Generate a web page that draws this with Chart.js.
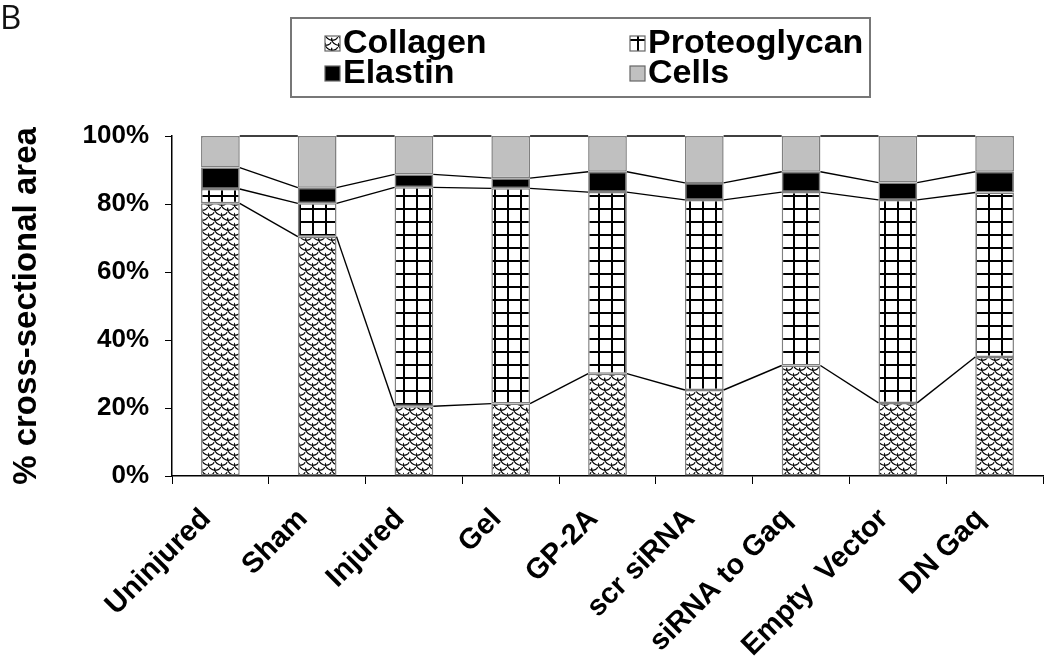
<!DOCTYPE html>
<html>
<head>
<meta charset="utf-8">
<script src="https://cdn.jsdelivr.net/npm/chart.js@4/dist/chart.umd.min.js"></script>
<style>
  html, body { margin: 0; padding: 0; background: #fff; }
  #wrap { position: relative; width: 1050px; height: 664px; }
  #panel { position: absolute; left: 0px; top: -6px; font: 33px "Open Sans", sans-serif; color: #111; }
</style>
</head>
<body>
<div id="wrap">
  <canvas id="stackChart" width="1050" height="664"></canvas>
  <div id="panel">B</div>
</div>
<script>
// data (% of cross-sectional area)
const groups = ['Uninjured', 'Sham', 'Injured', 'Gel', 'GP-2A', 'scr siRNA', 'siRNA to Gaq', 'Empty  Vector', 'DN Gaq'];
const collagen     = [80.2, 70.4, 20.5, 21.3, 30.1, 25.3, 32.5, 21.5, 35.0];
const proteoglycan = [4.2, 9.8, 64.4, 63.3, 53.4, 55.9, 51.0, 59.7, 48.4];
const elastin      = [6.3, 4.6, 3.8, 3.0, 6.0, 5.0, 6.0, 5.1, 6.1];
const cells        = [9.3, 15.2, 11.3, 12.4, 10.5, 13.8, 10.5, 13.7, 10.5];
const yTicks = [0, 20, 40, 60, 80, 100];

const FONT = '"Liberation Sans", Arial, sans-serif';

// fill patterns
function scalePattern() {
  const c = document.createElement('canvas');
  c.width = 13; c.height = 10;
  const g = c.getContext('2d');
  g.fillStyle = '#fff';
  g.fillRect(0, 0, 13, 10);
  g.strokeStyle = '#000';
  g.lineWidth = 1.2;
  // fish scale rows, every other row shifted half a tile
  [[0, 0], [13, 0], [6.5, 5], [0, 10], [13, 10], [6.5, -5]].forEach(p => {
    g.beginPath();
    g.ellipse(p[0], p[1], 6.5, 5, 0.35, 0, Math.PI);
    g.stroke();
  });
  return g.createPattern(c, 'repeat');
}

function gridPattern() {
  const c = document.createElement('canvas');
  c.width = 13; c.height = 13;
  const g = c.getContext('2d');
  g.fillStyle = '#fff';
  g.fillRect(0, 0, 13, 13);
  g.fillStyle = '#000';
  g.fillRect(0, 0, 13, 2);
  g.fillRect(0, 0, 2, 13);
  return g.createPattern(c, 'repeat');
}

const ctx = document.getElementById('stackChart').getContext('2d');

// Excel style series lines between neighbouring bars
const seriesLines = {
  id: 'seriesLines',
  afterDatasetsDraw(chart) {
    const c = chart.ctx;
    c.save();
    c.strokeStyle = '#000';
    c.lineWidth = 1.4;
    chart.data.datasets.forEach((ds, d) => {
      const bars = chart.getDatasetMeta(d).data;
      for (let i = 0; i < bars.length - 1; i++) {
        const a = bars[i], b = bars[i + 1];
        c.beginPath();
        c.moveTo(a.x + a.width / 2, a.y);
        c.lineTo(b.x - b.width / 2, b.y);
        c.stroke();
      }
    });
    c.restore();
  }
};

// boxed two-column legend
const boxLegend = {
  id: 'boxLegend',
  afterDraw(chart) {
    const c = chart.ctx;
    const left = 291, top = 18, right = 870, bottom = 97;
    c.save();
    c.strokeStyle = '#777';
    c.lineWidth = 2;
    c.strokeRect(left, top, right - left, bottom - top);
    c.font = 'bold 34px ' + FONT;
    c.textBaseline = 'middle';
    const cols = [325, 630];
    const rows = [43, 73];
    chart.data.datasets.forEach((ds, i) => {
      const x = cols[i % 2], y = rows[Math.floor(i / 2)];
      c.fillStyle = ds.backgroundColor;
      c.fillRect(x, y - 7, 15, 15);
      c.strokeStyle = '#666';
      c.lineWidth = 1.2;
      c.strokeRect(x, y - 7, 15, 15);
      c.fillStyle = '#000';
      c.fillText(ds.label, x + 18, y + 1);
    });
    c.restore();
  }
};

const barStyle = { borderColor: '#808080', borderWidth: 1.5, borderSkipped: false };

new Chart(ctx, {
  type: 'bar',
  data: {
    labels: groups,
    datasets: [
      { label: 'Collagen', data: collagen, backgroundColor: scalePattern(), ...barStyle },
      { label: 'Proteoglycan', data: proteoglycan, backgroundColor: gridPattern(), ...barStyle },
      { label: 'Elastin', data: elastin, backgroundColor: '#000000', ...barStyle },
      { label: 'Cells', data: cells, backgroundColor: '#c0c0c0', ...barStyle }
    ]
  },
  options: {
    responsive: false,
    animation: false,
    layout: { padding: { top: 136, right: 7, left: 6, bottom: 0 } },
    plugins: {
      legend: { display: false },
      tooltip: { enabled: false }
    },
    datasets: { bar: { categoryPercentage: 1, barPercentage: 0.4 } },
    scales: {
      x: {
        stacked: true,
        afterFit(axis) { axis.height = 188; },
        grid: { display: true, drawOnChartArea: false, drawTicks: true, tickLength: 8, color: '#000', offset: true },
        border: { color: '#000', width: 1.5 },
        ticks: {
          color: '#000',
          font: { family: FONT, size: 29, weight: 'bold' },
          minRotation: 45, maxRotation: 45,
          labelOffset: -14,
          padding: 18,
          autoSkip: false
        }
      },
      y: {
        stacked: true,
        min: 0, max: 100,
        afterFit(axis) { axis.width = 166; },
        afterBuildTicks(axis) { axis.ticks = yTicks.map(v => ({ value: v })); },
        grid: { display: true, drawOnChartArea: false, drawTicks: true, tickLength: 7, color: '#000' },
        border: { color: '#000', width: 1.5 },
        ticks: {
          color: '#000',
          font: { family: FONT, size: 26, weight: 'bold' },
          padding: 16,
          callback: v => v + '%'
        },
        title: {
          display: true,
          text: '% cross-sectional area',
          color: '#000',
          font: { family: FONT, size: 33, weight: 'bold' },
          padding: { top: 1, bottom: 0 }
        }
      }
    }
  },
  plugins: [seriesLines, boxLegend]
});
</script>
</body>
</html>
